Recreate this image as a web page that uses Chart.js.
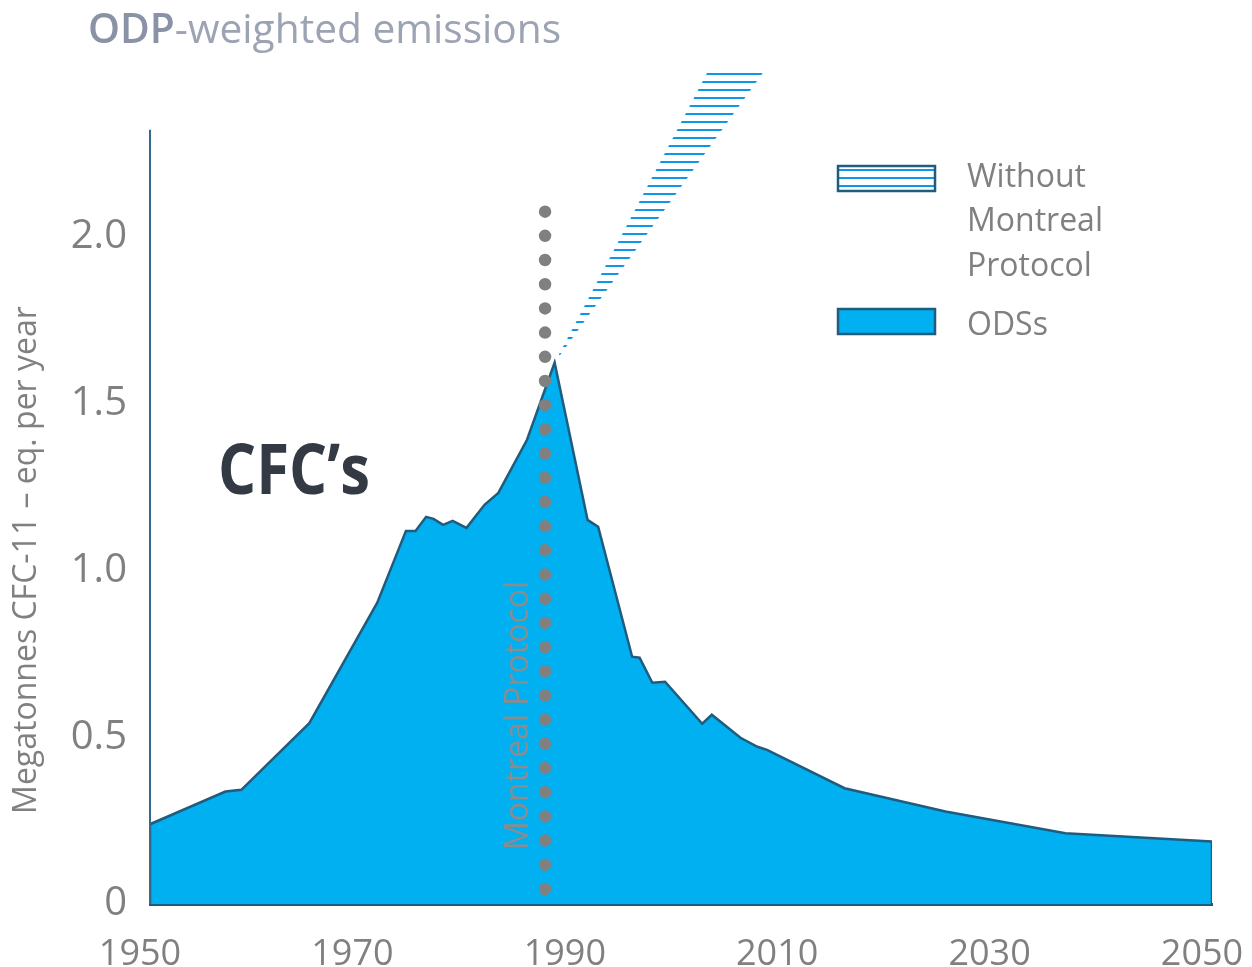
<!DOCTYPE html>
<html>
<head>
<meta charset="utf-8">
<title>ODP-weighted emissions</title>
<script src="https://cdn.jsdelivr.net/npm/chart.js@4.4.1/dist/chart.umd.min.js"></script>
<style>
  html, body { margin: 0; padding: 0; background: #ffffff; }
  #wrap { position: relative; width: 1252px; height: 967px; }
</style>
</head>
<body>
<div id="wrap"><canvas id="chart"></canvas></div>
<script>
// Axis ticks
const xTicks = [1950, 1970, 1990, 2010, 2030, 2050];
const yTicks = [0, 0.5, 1.0, 1.5, 2.0];

// ODS emissions (Megatonnes CFC-11-eq per year)
const years = [1950, 1957.1, 1958.6, 1965.0, 1971.4, 1974.1, 1975.0, 1976.0, 1976.7, 1977.6,
               1978.5, 1979.8, 1981.5, 1982.8, 1985.5, 1988.1, 1991.2, 1992.2, 1995.4, 1996.1,
               1997.3, 1998.5, 2002.0, 2002.9, 2005.6, 2007.2, 2008.1, 2015.4, 2024.9, 2036.2, 2050];
const odsEmissions = [0.239, 0.337, 0.342, 0.542, 0.903, 1.118, 1.118, 1.160, 1.154, 1.136,
                      1.148, 1.127, 1.196, 1.232, 1.391, 1.622, 1.151, 1.130, 0.741, 0.738,
                      0.663, 0.666, 0.540, 0.567, 0.498, 0.471, 0.462, 0.347, 0.277, 0.212, 0.187];

// Scenario without the Montreal Protocol: band between two edges
const noProtocolTopYears = [1988.1, 2002.45, 2007.7];
const noProtocolTop = [1.622, 2.49, 2.49];
const noProtocolBottomYears = [1988.1, 2007.7];
const noProtocolBottom = [1.622, 2.49];

// Montreal Protocol marker
const protocolYear = 1987.2;
const protocolRange = [0.045, 2.076];

const yMax = 2.49;
const yAxisTop = 2.32;

const COLORS = {
  ods: '#00b0f0',
  odsBorder: '#1f5c7d',
  hatch: '#0f97e6',
  axis: '#33698a',
  dots: '#808080',
  text: '#808080',
  titleStrong: '#8a93a5',
  title: '#9ca3b3',
  cfc: '#333a44'
};

Chart.defaults.font.family = '"Open Sans", sans-serif';

const canvas = document.getElementById('chart');
const ctx0 = canvas.getContext('2d');

function makeHatch(color) {
  const c = document.createElement('canvas');
  c.width = 8; c.height = 8;
  const g = c.getContext('2d');
  g.fillStyle = color;
  g.fillRect(0, 1, 8, 2);
  return ctx0.createPattern(c, 'repeat');
}
const hatch = makeHatch(COLORS.hatch);

const pts = (xs, ys) => xs.map((v, i) => ({ x: v, y: ys[i] }));

const odsData = [{ x: years[0], y: 0 }, ...pts(years, odsEmissions), { x: years[years.length - 1], y: 0 }];

// Title, annotations, custom legend and the partial y axis line
const decorations = {
  id: 'decorations',
  afterDatasetsDraw(chart) {
    const { ctx, scales: { x, y } } = chart;
    ctx.save();

    // y axis line
    const ax = x.getPixelForValue(xTicks[0]);
    ctx.strokeStyle = COLORS.axis;
    ctx.lineWidth = 2;
    ctx.beginPath();
    ctx.moveTo(ax, y.getPixelForValue(0));
    ctx.lineTo(ax, y.getPixelForValue(yAxisTop));
    ctx.stroke();

    // Montreal Protocol label
    ctx.save();
    ctx.translate(x.getPixelForValue(protocolYear) - 17, y.getPixelForValue(0) - 54);
    ctx.rotate(-Math.PI / 2);
    ctx.font = '32px "Open Sans"';
    ctx.fillStyle = '#8c8c8c';
    ctx.textAlign = 'left';
    ctx.textBaseline = 'alphabetic';
    ctx.fillText('Montreal Protocol', 0, 0);
    ctx.restore();

    // y axis title
    ctx.save();
    ctx.translate(36, 560);
    ctx.rotate(-Math.PI / 2);
    ctx.font = '32px "Open Sans"';
    ctx.fillStyle = COLORS.text;
    ctx.textAlign = 'center';
    ctx.textBaseline = 'alphabetic';
    ctx.fillText('Megatonnes CFC-11 \u2013 eq. per year', 0, 0);
    ctx.restore();

    // CFC's label
    ctx.font = 'bold 70px "Open Sans"';
    ctx.fillStyle = COLORS.cfc;
    ctx.textAlign = 'left';
    ctx.textBaseline = 'alphabetic';
    ctx.fillText('CFC\u2019s', 218, 494, 152);

    // Title
    ctx.font = '600 40.7px "Open Sans"';
    ctx.fillStyle = COLORS.titleStrong;
    ctx.fillText('ODP', 88, 43);
    const w = ctx.measureText('ODP').width;
    ctx.font = '40.7px "Open Sans"';
    ctx.fillStyle = COLORS.title;
    ctx.fillText('-weighted emissions', 88 + w, 43);

    // Legend
    const bx = 838, bw = 97, bh = 25;
    ctx.lineWidth = 2.5;
    ctx.strokeStyle = COLORS.odsBorder;
    ctx.fillStyle = '#ffffff';
    ctx.fillRect(bx, 166, bw, bh);
    ctx.fillStyle = hatch;
    ctx.fillRect(bx, 166, bw, bh);
    ctx.strokeRect(bx, 166, bw, bh);
    ctx.fillStyle = COLORS.ods;
    ctx.fillRect(bx, 309, bw, bh);
    ctx.strokeRect(bx, 309, bw, bh);

    ctx.font = '32px "Open Sans"';
    ctx.fillStyle = COLORS.text;
    ctx.fillText('Without', 967, 187);
    ctx.fillText('Montreal', 967, 231);
    ctx.fillText('Protocol', 967, 276);
    ctx.fillText('ODSs', 967, 335);

    ctx.restore();
  }
};

new Chart(canvas, {
  type: 'line',
  data: {
    datasets: [
      {
        label: 'ODSs',
        data: odsData,
        borderColor: COLORS.odsBorder,
        borderWidth: 2.5,
        backgroundColor: COLORS.ods,
        fill: 'origin',
        pointRadius: 0,
        tension: 0,
        order: 1
      },
      {
        label: 'Without Montreal Protocol',
        data: pts(noProtocolTopYears, noProtocolTop),
        borderColor: 'rgba(0,0,0,0)',
        borderWidth: 1,
        backgroundColor: hatch,
        fill: '+1',
        pointRadius: 0,
        tension: 0,
        order: 2
      },
      {
        label: 'Without Montreal Protocol (lower edge)',
        data: pts(noProtocolBottomYears, noProtocolBottom),
        borderColor: 'rgba(0,0,0,0)',
        borderWidth: 1,
        fill: false,
        pointRadius: 0,
        tension: 0,
        order: 2
      },
      {
        label: 'Montreal Protocol',
        data: [{ x: protocolYear, y: protocolRange[0] }, { x: protocolYear, y: protocolRange[1] }],
        borderColor: COLORS.dots,
        borderWidth: 12.5,
        borderDash: [0, 24.19],
        borderCapStyle: 'round',
        fill: false,
        pointRadius: 0,
        order: 0
      }
    ]
  },
  options: {
    responsive: true,
    maintainAspectRatio: false,
    animation: false,
    layout: { padding: { left: 0, right: 40, top: 73, bottom: 0 } },
    plugins: {
      legend: { display: false },
      tooltip: { enabled: false },
      title: { display: false }
    },
    scales: {
      x: {
        type: 'linear',
        min: xTicks[0],
        max: xTicks[xTicks.length - 1],
        afterBuildTicks: s => { s.ticks = xTicks.map(v => ({ value: v })); },
        afterFit: s => { s.height = 63; s.paddingLeft = 0; s.paddingRight = 0; },
        grid: { display: false, drawTicks: false },
        border: { display: true, color: COLORS.odsBorder, width: 3 },
        ticks: {
          color: COLORS.text,
          font: { size: 36 },
          padding: 29,
          labelOffset: -10,
          maxRotation: 0,
          autoSkip: false,
          callback: v => String(v)
        }
      },
      y: {
        type: 'linear',
        min: 0,
        max: yMax,
        afterBuildTicks: s => { s.ticks = yTicks.map(v => ({ value: v })); },
        afterFit: s => { s.width = 150; s.paddingTop = 0; s.paddingBottom = 0; },
        grid: { display: false, drawTicks: false },
        border: { display: false },
        ticks: {
          color: COLORS.text,
          font: { size: 40 },
          padding: 23,
          autoSkip: false,
          callback: v => (v === 0 ? '0' : v.toFixed(1))
        }
      }
    }
  },
  plugins: [decorations]
});
</script>
</body>
</html>
